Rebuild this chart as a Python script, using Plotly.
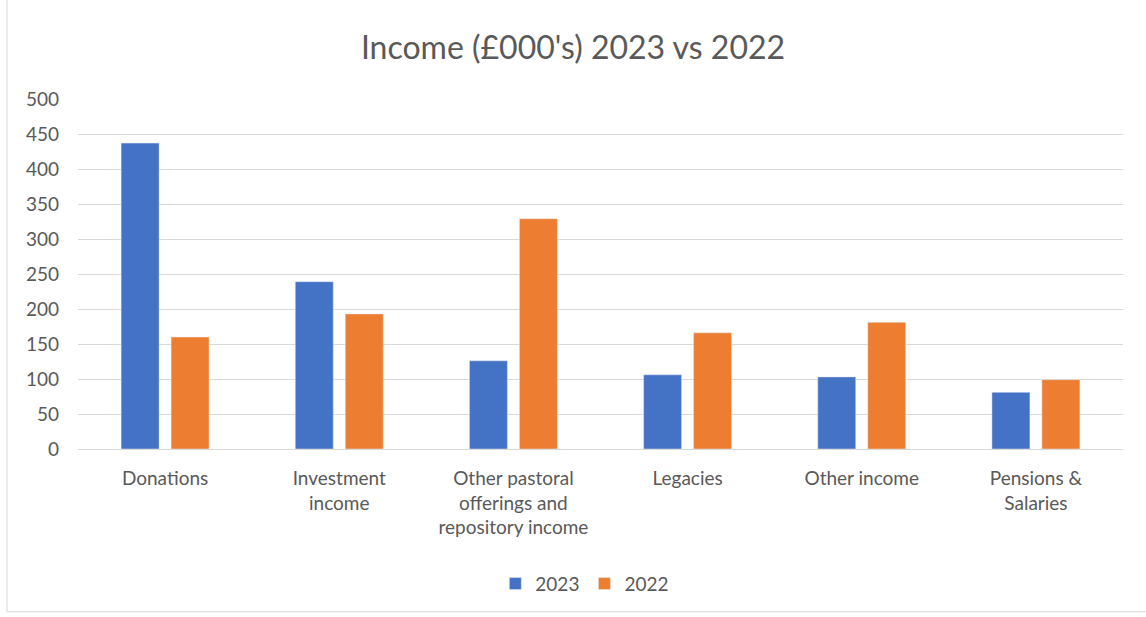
import plotly.graph_objects as go

categories = ["Donations", "Investment<br>income", "Other pastoral<br>offerings and<br>repository income",
              "Legacies", "Other income", "Pensions &<br>Salaries"]
values_2023 = [437, 239, 126, 106, 103, 81]
values_2022 = [160, 193, 329, 166, 181, 99]
y_ticks = [0, 50, 100, 150, 200, 250, 300, 350, 400, 450, 500]

fig = go.Figure()
fig.add_trace(go.Bar(name="2023", x=categories, y=values_2023, marker_color="#4472C4"))
fig.add_trace(go.Bar(name="2022", x=categories, y=values_2022, marker_color="#ED7D31"))

fig.update_layout(
    width=1146, height=617,
    margin=dict(l=78, r=23, t=99, b=168),
    paper_bgcolor="white", plot_bgcolor="white",
    font=dict(family="Lato, 'Open Sans', sans-serif", color="#595959", size=19),
    title=dict(text="Income (£000's) 2023 vs 2022", x=0.5, xanchor="center", y=0.922, yanchor="middle",
               font=dict(size=32, color="#595959")),
    barmode="group", bargap=0.426, bargroupgap=0.24,
    showlegend=True,
    legend=dict(orientation="h", x=0.485, xanchor="center", y=-0.385, yanchor="middle",
                font=dict(size=19, color="#595959"), itemwidth=30),
    shapes=[dict(type="rect", xref="paper", yref="paper", x0=-0.068, x1=1.03, y0=-0.465, y1=1.3,
                 line=dict(color="#d9d9d9", width=1))],
)
fig.update_yaxes(range=[0, 500], tickvals=y_ticks, showgrid=True, gridcolor="#d9d9d9", gridwidth=1,
                 zeroline=False, showline=False, ticks="", tickfont=dict(size=19), ticklabelstandoff=18)
fig.update_xaxes(showline=True, linecolor="#d9d9d9", linewidth=1, ticks="", tickfont=dict(size=19),
                 tickangle=0, ticklabelstandoff=12)

fig.write_html("out.html")
